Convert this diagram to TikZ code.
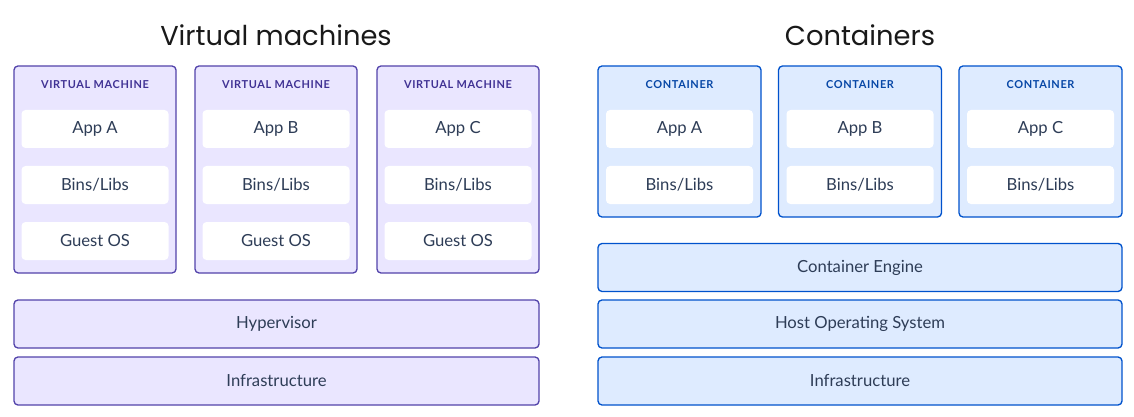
\documentclass[tikz,border=0pt]{standalone}
\usepackage{fontspec}
\setmainfont{Lato}
\newfontfamily\titlefont{Poppins}
\definecolor{vmfill}{HTML}{EAE6FF}
\definecolor{vmline}{HTML}{5243AA}
\definecolor{vmtext}{HTML}{403294}
\definecolor{ctfill}{HTML}{DEEBFF}
\definecolor{ctline}{HTML}{0052CC}
\definecolor{cttext}{HTML}{0747A6}
\definecolor{ink}{HTML}{2E3D57}
\usetikzlibrary{positioning}

\begin{document}
\begin{tikzpicture}[
  x=0.75pt, y=-0.75pt,
  title/.style={font=\titlefont\fontsize{20.5}{24}\selectfont, text=black!90},
  outer/.style={draw, line width=1pt, rounded corners=3pt, minimum width=121.5pt},
  vmbox/.style={outer, fill=vmfill, draw=vmline, minimum height=155.25pt},
  ctbox/.style={outer, fill=ctfill, draw=ctline, minimum width=122.25pt, minimum height=113.25pt},
  tag/.style={font=\addfontfeatures{LetterSpace=6}\bfseries\fontsize{8.2}{9}\selectfont},
  part/.style={fill=white, rounded corners=3pt, minimum width=110.25pt, minimum height=28.5pt, inner sep=0pt, text=ink, font=\fontsize{12.5}{14}\selectfont},
  layer/.style={draw, line width=1pt, rounded corners=3pt, minimum width=393.75pt, minimum height=36pt, text=ink, font=\fontsize{12.5}{14}\selectfont},
  vmlayer/.style={layer, fill=vmfill, draw=vmline},
  ctlayer/.style={layer, fill=ctfill, draw=ctline, minimum width=393pt}
]
  \useasboundingbox (0,0) rectangle (1134,417);

  % virtual machines side
  \node[title] (vmtitle) at (276,35) {Virtual machines};
  \foreach \i/\x/\app in {1/95/A, 2/276/B, 3/458/C} {
    \node[vmbox] (vm\i) at (\x,169.5) {};
    \node[tag, text=vmtext] (vmtag\i) at (\x,85) {VIRTUAL MACHINE};
    \node[part] (vmapp\i) at (\x,129) {App \app};
    \node[part] (vmbins\i) at (\x,185) {Bins/Libs};
    \node[part] (vmos\i) at (\x,241) {Guest OS};
  }
  \node[vmlayer] (hyper) at (276.5,324) {Hypervisor};
  \node[vmlayer] (vminfra) at (276.5,381) {Infrastructure};

  % containers side
  \node[title] (cttitle) at (860,35) {Containers};
  \foreach \i/\x/\app in {1/679.5/A, 2/860/B, 3/1040.5/C} {
    \node[ctbox] (ct\i) at (\x,141.5) {};
    \node[tag, text=cttext] (cttag\i) at (\x,85) {CONTAINER};
    \node[part] (ctapp\i) at (\x,129) {App \app};
    \node[part] (ctbins\i) at (\x,185) {Bins/Libs};
  }
  \node[ctlayer] (engine) at (860,267.5) {Container Engine};
  \node[ctlayer] (hostos) at (860,324) {Host Operating System};
  \node[ctlayer] (ctinfra) at (860,381) {Infrastructure};
\end{tikzpicture}
\end{document}
